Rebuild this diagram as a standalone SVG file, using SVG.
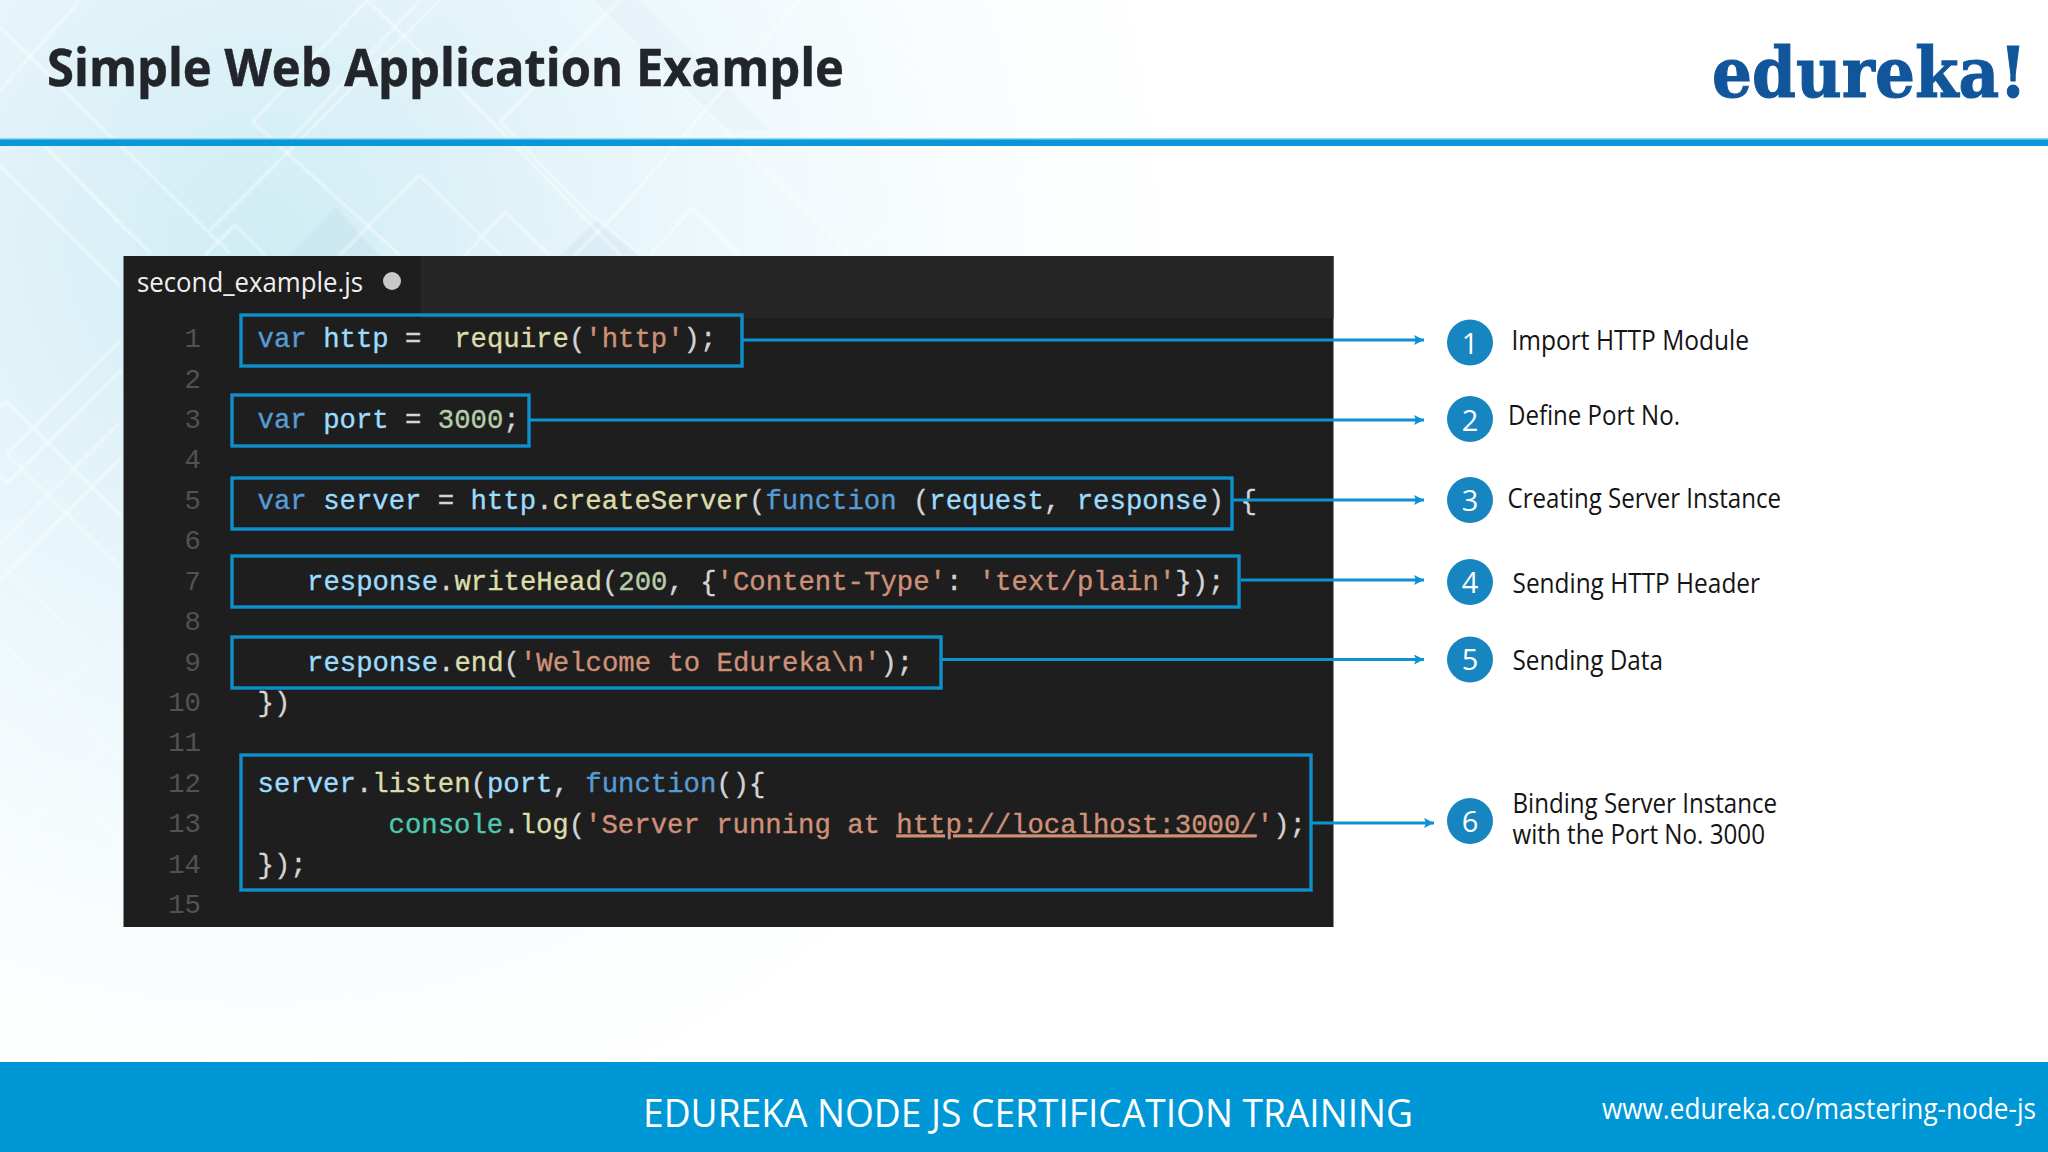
<svg xmlns="http://www.w3.org/2000/svg" width="2048" height="1152" viewBox="0 0 2048 1152">
<style>
.sans{font-family:"Open Sans","Noto Sans","Liberation Sans",sans-serif}
.code{font-family:"Liberation Mono","DejaVu Sans Mono",monospace;font-size:27.3px;white-space:pre;stroke-width:.35}
.ln{fill:#505355;text-anchor:end;stroke:none}
.k{fill:#569cd6;stroke:#569cd6}.v{fill:#9cdcfe;stroke:#9cdcfe}.f{fill:#dcdcaa;stroke:#dcdcaa}.s{fill:#ce9178;stroke:#ce9178}.n{fill:#b5cea8;stroke:#b5cea8}.p{fill:#d4d4d4;stroke:#d4d4d4}.c{fill:#4ec9b0;stroke:#4ec9b0}
.u{text-decoration:underline}
.hl{fill:none;stroke:#0f8fca;stroke-width:3.4}
.con{stroke:#0d92d2;stroke-width:3;fill:none;marker-end:url(#arrow)}
.dot{fill:#1785bf}
.num{fill:#fff;font-size:29px;text-anchor:middle}
.lab{fill:#141414;font-size:26.5px}
.bgl{fill:none;stroke:#fff;stroke-width:2.2;stroke-opacity:.6}
.bgf{fill:none;stroke:#fff;stroke-width:2;stroke-opacity:.35}
</style>
<defs>
<radialGradient id="bg" gradientUnits="userSpaceOnUse" cx="260" cy="240" r="930">
<stop offset="0" stop-color="#cfedf4"/>
<stop offset=".25" stop-color="#dff2f8"/>
<stop offset=".5" stop-color="#eef8fc"/>
<stop offset=".78" stop-color="#fafdfe"/>
<stop offset="1" stop-color="#ffffff"/>
</radialGradient>
<filter id="soft" x="-5%" y="-5%" width="110%" height="110%"><feGaussianBlur stdDeviation="1"/></filter>
<marker id="arrow" markerUnits="userSpaceOnUse" markerWidth="12" markerHeight="12" refX="10" refY="5" orient="auto">
<path d="M0 0L10 5L0 10L2 5Z" fill="#0d92d2"/>
</marker>
</defs>

<g id="background">
<rect width="2048" height="1152" fill="#fff"/>
<rect width="2048" height="1152" fill="url(#bg)"/>
<g filter="url(#soft)">
<path d="M290 256L335 207L380 256Z" fill="#b8d6e4" fill-opacity=".3"/>
<path d="M560 256L597 220L640 256Z" fill="#c4dcea" fill-opacity=".3"/>
<path d="M590 0L640 0L770 130L720 130Z" fill="#d4e6f2" fill-opacity=".2"/>
<path class="bgl" d="M0 27L230 253M43 145L150 253M0 166L120 286M43 145L130 234"/>
<path class="bgl" d="M367 0L253 122L400 255M367 0L500 130L620 255"/>
<path class="bgl" d="M419 175L340 255M419 175L500 255M505 212L465 255M505 212L550 255M235 225L205 255M235 225L265 255"/>
<path class="bgl" d="M692 208L650 255M692 208L740 255M500 122L580 205L640 255M500 122L620 0"/>
<path class="bgl" d="M591 0L746 150L850 255M440 0L330 110L210 230M80 0L0 90M420 0L290 140M800 0L620 210L575 255"/>
<path class="bgf" d="M900 60L1000 160L1080 250M860 0L960 110M930 180L860 255"/>
<path class="bgl" d="M0 407L7 402L122 517M7 454L122 569M0 476L7 483L122 370M7 454L120 341M0 543L120 423M0 580L120 459"/>
<path class="bgf" d="M0 564L93 650M0 718L120 842M0 852L120 732M0 800L70 870M40 700L120 640M0 640L120 760"/>
<path class="bgf" d="M400 930L340 1000M700 930L620 1010"/>
</g>
</g>

<g id="header">
<rect y="139" width="2048" height="7" fill="#0a97d9"/>
<rect y="138" width="2048" height="1.5" fill="#8fd8f2"/>
<text class="sans" x="47" y="86" font-size="52" font-weight="700" fill="#22262a" stroke="#22262a" stroke-width=".5" textLength="797" lengthAdjust="spacingAndGlyphs">Simple Web Application Example</text>
<text transform="translate(1712 97) scale(1 1.12)" font-family="'DejaVu Serif',serif" font-weight="700" font-size="62" fill="#11569b" stroke="#11569b" stroke-width="1" textLength="315" lengthAdjust="spacingAndGlyphs">edureka!</text>
</g>

<g id="editor">
<rect x="123.5" y="256" width="1210" height="671" fill="#1e1e1f"/>
<rect x="421" y="256" width="912.5" height="62" fill="#262627"/>
<text class="sans" x="137" y="291.5" font-size="27" fill="#f0f0f0" textLength="226" lengthAdjust="spacingAndGlyphs">second_example.js</text>
<ellipse cx="392" cy="281" rx="9" ry="9" fill="#c9c9c9"/>
<g class="code">
<text class="ln" x="201" y="347">1</text>
<text class="ln" x="201" y="387.5">2</text>
<text class="ln" x="201" y="428">3</text>
<text class="ln" x="201" y="468">4</text>
<text class="ln" x="201" y="509">5</text>
<text class="ln" x="201" y="549">6</text>
<text class="ln" x="201" y="590">7</text>
<text class="ln" x="201" y="630">8</text>
<text class="ln" x="201" y="671">9</text>
<text class="ln" x="201" y="711">10</text>
<text class="ln" x="201" y="751">11</text>
<text class="ln" x="201" y="792">12</text>
<text class="ln" x="201" y="832">13</text>
<text class="ln" x="201" y="873">14</text>
<text class="ln" x="201" y="913">15</text>
<text x="257.6" y="347" xml:space="preserve"><tspan class="k">var</tspan><tspan class="p"> </tspan><tspan class="v">http</tspan><tspan class="p"> =  </tspan><tspan class="f">require</tspan><tspan class="p">(</tspan><tspan class="s">'http'</tspan><tspan class="p">);</tspan></text>
<text x="257.6" y="428" xml:space="preserve"><tspan class="k">var</tspan><tspan class="p"> </tspan><tspan class="v">port</tspan><tspan class="p"> = </tspan><tspan class="n">3000</tspan><tspan class="p">;</tspan></text>
<text x="257.6" y="509" xml:space="preserve"><tspan class="k">var</tspan><tspan class="p"> </tspan><tspan class="v">server</tspan><tspan class="p"> = </tspan><tspan class="v">http</tspan><tspan class="p">.</tspan><tspan class="f">createServer</tspan><tspan class="p">(</tspan><tspan class="k">function</tspan><tspan class="p"> (</tspan><tspan class="v">request</tspan><tspan class="p">, </tspan><tspan class="v">response</tspan><tspan class="p">) {</tspan></text>
<text x="307" y="590" xml:space="preserve"><tspan class="v">response</tspan><tspan class="p">.</tspan><tspan class="f">writeHead</tspan><tspan class="p">(</tspan><tspan class="n">200</tspan><tspan class="p">, {</tspan><tspan class="s">'Content-Type'</tspan><tspan class="p">: </tspan><tspan class="s">'text/plain'</tspan><tspan class="p">});</tspan></text>
<text x="307" y="671" xml:space="preserve"><tspan class="v">response</tspan><tspan class="p">.</tspan><tspan class="f">end</tspan><tspan class="p">(</tspan><tspan class="s">'Welcome to Edureka\n'</tspan><tspan class="p">);</tspan></text>
<text x="257.6" y="711" class="p">})</text>
<text x="257.6" y="792" xml:space="preserve"><tspan class="v">server</tspan><tspan class="p">.</tspan><tspan class="f">listen</tspan><tspan class="p">(</tspan><tspan class="v">port</tspan><tspan class="p">, </tspan><tspan class="k">function</tspan><tspan class="p">(){</tspan></text>
<text x="388.5" y="832.5" xml:space="preserve"><tspan class="c">console</tspan><tspan class="p">.</tspan><tspan class="f">log</tspan><tspan class="p">(</tspan><tspan class="s">'Server running at </tspan><tspan class="s u">http://localhost:3000/</tspan><tspan class="s">'</tspan><tspan class="p">);</tspan></text>
<text x="257.6" y="873" class="p">});</text>
</g>
</g>

<g id="code-box-1"><rect class="hl" x="241" y="315" width="501" height="51"/></g>
<g id="code-box-2"><rect class="hl" x="232" y="395" width="297" height="51"/></g>
<g id="code-box-3"><rect class="hl" x="232" y="478" width="1000" height="51"/></g>
<g id="code-box-4"><rect class="hl" x="232" y="556" width="1007" height="51"/></g>
<g id="code-box-5"><rect class="hl" x="232" y="637" width="709" height="51"/></g>
<g id="code-box-6"><rect class="hl" x="241" y="755" width="1070" height="135"/></g>

<g id="connectors">
<line class="con" x1="743" y1="340" x2="1424" y2="340"/>
<line class="con" x1="530" y1="420" x2="1424" y2="420"/>
<line class="con" x1="1233" y1="500" x2="1424" y2="500"/>
<line class="con" x1="1241" y1="580" x2="1424" y2="580"/>
<line class="con" x1="942" y1="659.5" x2="1424" y2="659.5"/>
<line class="con" x1="1312" y1="823" x2="1434" y2="823"/>
</g>

<g id="step-1" class="sans"><circle class="dot" cx="1470" cy="342.5" r="23"/><text class="num" x="1470" y="354">1</text><text class="lab" x="1511.5" y="350" textLength="237.5" lengthAdjust="spacingAndGlyphs">Import HTTP Module</text></g>
<g id="step-2" class="sans"><circle class="dot" cx="1470" cy="419" r="23"/><text class="num" x="1470" y="430.5">2</text><text class="lab" x="1508" y="424.5" textLength="172" lengthAdjust="spacingAndGlyphs">Define Port No.</text></g>
<g id="step-3" class="sans"><circle class="dot" cx="1470" cy="500" r="23"/><text class="num" x="1470" y="511">3</text><text class="lab" x="1507.5" y="507.5" textLength="273.5" lengthAdjust="spacingAndGlyphs">Creating Server Instance</text></g>
<g id="step-4" class="sans"><circle class="dot" cx="1470" cy="582" r="23"/><text class="num" x="1470" y="593">4</text><text class="lab" x="1512.5" y="592.5" textLength="247.5" lengthAdjust="spacingAndGlyphs">Sending HTTP Header</text></g>
<g id="step-5" class="sans"><circle class="dot" cx="1470" cy="659.5" r="23"/><text class="num" x="1470" y="670">5</text><text class="lab" x="1512.5" y="669.5" textLength="150.5" lengthAdjust="spacingAndGlyphs">Sending Data</text></g>
<g id="step-6" class="sans"><circle class="dot" cx="1470" cy="821" r="23"/><text class="num" x="1470" y="832">6</text><text class="lab"><tspan x="1512.5" y="813" textLength="264.5" lengthAdjust="spacingAndGlyphs">Binding Server Instance</tspan><tspan x="1512.5" y="844" textLength="252.5" lengthAdjust="spacingAndGlyphs">with the Port No. 3000</tspan></text></g>

<g id="footer">
<rect y="1062" width="2048" height="90" fill="#0097d6"/>
<text class="sans" x="643" y="1127" font-size="38" fill="#fff" textLength="770" lengthAdjust="spacingAndGlyphs">EDUREKA NODE JS CERTIFICATION TRAINING</text>
<text class="sans" transform="translate(1602 1118.5) scale(1 1.12)" font-size="25.5" fill="#fff" textLength="434" lengthAdjust="spacingAndGlyphs">www.edureka.co/mastering-node-js</text>
</g>
</svg>
